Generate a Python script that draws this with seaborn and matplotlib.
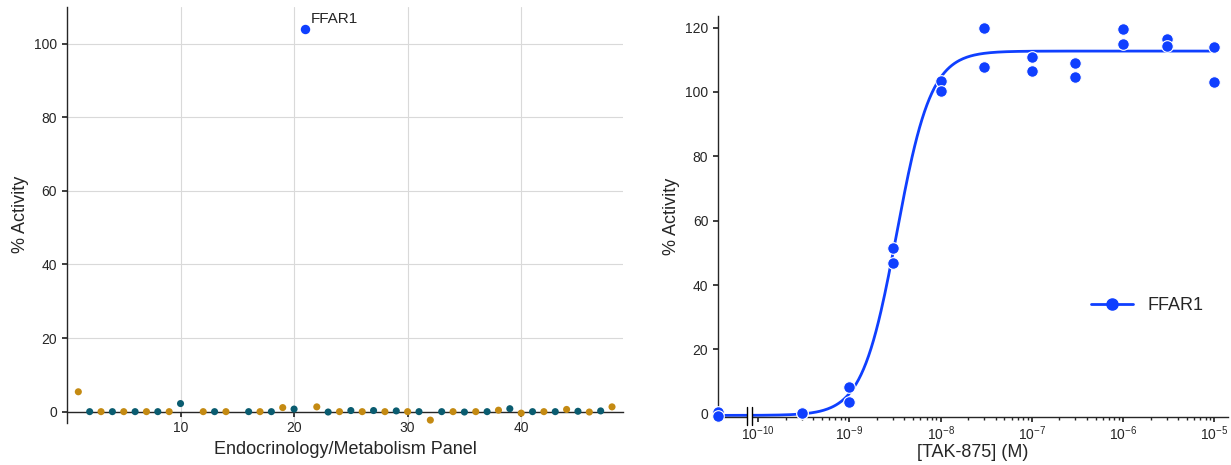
import numpy as np
import pandas as pd
import matplotlib
matplotlib.use("Agg")
import matplotlib.pyplot as plt
from matplotlib import ticker, transforms
from matplotlib.patches import Rectangle
import seaborn as sns

# selectivity panel (left)
panel_idx = [1, 2, 3, 4, 5, 6, 7, 8, 9, 10, 12, 13, 14, 16, 17, 18, 19, 20, 21,
             22, 23, 24, 25, 26, 27, 28, 29, 30, 31, 32, 33, 34, 35, 36, 37, 38,
             39, 40, 41, 42, 43, 44, 45, 46, 47, 48]
panel_act = [5.4, 0.0, 0.0, 0.0, 0.0, 0.0, 0.0, 0.0, 0.0, 2.2, 0.0, 0.0, 0.0, 0.0,
             0.0, 0.0, 1.1, 0.7, 104.0, 1.3, -0.1, 0.0, 0.3, 0.0, 0.3, 0.0, 0.2,
             0.0, 0.0, -2.3, 0.0, 0.0, -0.1, 0.0, 0.0, 0.4, 0.8, -0.4, 0.0, 0.0,
             0.0, 0.6, 0.1, -0.1, 0.2, 1.3]
panel_grp = ["a", "b", "a", "b", "a", "b", "a", "b", "a", "b", "a", "b", "a", "b",
             "a", "b", "a", "b", "hit", "a", "b", "a", "b", "a", "b", "a", "b",
             "a", "b", "a", "b", "a", "b", "a", "b", "a", "b", "a", "b", "a",
             "b", "a", "b", "a", "b", "a"]
hit_name = "FFAR1"

# TAK-875 dose response (right), 0 = vehicle
conc = [0, 3e-10, 1e-9, 3e-9, 1e-8, 3e-8, 1e-7, 3e-7, 1e-6, 3e-6, 1e-5]
rep1 = [0.5, 0.4, 8.3, 51.6, 103.4, 119.8, 110.8, 109.1, 119.5, 116.3, 114.0]
rep2 = [-0.6, 0.1, 3.8, 47.0, 100.3, 107.7, 106.4, 104.8, 115.0, 114.4, 103.1]
fit_bottom, fit_top, fit_ec50, fit_hill = -0.5, 112.7, 3.3e-9, 2.3

BLUE = "#0f3fff"
GOLD = "#c48a12"
TEAL = "#0a5c70"
ZERO_POS = 10 ** -10.44
XMAX = 10 ** -4.85

sns.set_theme(style="ticks")
plt.rcParams["font.family"] = ["Liberation Sans", "DejaVu Sans"]
plt.rcParams["axes.linewidth"] = 1.0
plt.rcParams["xtick.labelsize"] = 10
plt.rcParams["ytick.labelsize"] = 10
plt.rcParams["xtick.major.size"] = 3.5
plt.rcParams["ytick.major.size"] = 3.5

fig = plt.figure(figsize=(12.31, 4.65), dpi=100)
ax1 = fig.add_axes([0.0544, 0.091, 0.452, 0.894])
ax2 = fig.add_axes([0.5833, 0.1032, 0.4143, 0.8624])

# ---- left panel
df = pd.DataFrame({"idx": panel_idx, "act": panel_act, "grp": panel_grp})
rest = df[df["grp"] != "hit"]
hit = df[df["grp"] == "hit"]
ax1.grid(True, color="#d9d9d9", lw=0.8)
ax1.set_axisbelow(True)
sns.scatterplot(data=rest, x="idx", y="act", hue="grp",
                palette={"a": GOLD, "b": TEAL}, s=26, linewidth=0,
                legend=False, ax=ax1, clip_on=False, zorder=3)
sns.scatterplot(data=hit, x="idx", y="act", color=BLUE, s=46, linewidth=0,
                legend=False, ax=ax1, zorder=3)
ax1.annotate(hit_name, (hit["idx"].iloc[0], hit["act"].iloc[0]), xytext=(4, 2),
             textcoords="offset points", fontsize=11, ha="left", va="bottom")
ax1.set_xlim(0, 49)
ax1.set_ylim(-3, 110)
ax1.set_xticks([10, 20, 30, 40])
ax1.set_yticks([0, 20, 40, 60, 80, 100])
ax1.spines["bottom"].set_position(("data", 0))
sns.despine(ax=ax1)
ax1.set_xlabel("Endocrinology/Metabolism Panel", fontsize=13, labelpad=4)
ax1.set_ylabel("% Activity", fontsize=13)

# ---- right panel
x_plot = [ZERO_POS if c == 0 else c for c in conc]
dr = pd.DataFrame({"x": x_plot * 2, "y": rep1 + rep2})
grid = np.logspace(np.log10(ZERO_POS), -5, 400)
curve = fit_bottom + (fit_top - fit_bottom) / (1 + (fit_ec50 / grid) ** fit_hill)
sns.lineplot(x=grid, y=curve, color=BLUE, lw=2, ax=ax2, zorder=2)
sns.scatterplot(data=dr, x="x", y="y", color=BLUE, s=70, edgecolor="white",
                linewidth=0.8, ax=ax2, clip_on=False, zorder=3)
ax2.set_xscale("log")
ax2.set_xlim(ZERO_POS, XMAX)
ax2.set_ylim(-1, 123.6)
ax2.set_yticks([0, 20, 40, 60, 80, 100, 120])
ax2.xaxis.set_major_locator(ticker.FixedLocator([1e-10, 1e-9, 1e-8, 1e-7, 1e-6, 1e-5]))
ax2.xaxis.set_major_formatter(ticker.LogFormatterSciNotation())
minors = [m * 10.0 ** k for k in range(-10, -5) for m in range(2, 10)]
ax2.xaxis.set_minor_locator(ticker.FixedLocator(minors))
ax2.xaxis.set_minor_formatter(ticker.NullFormatter())
ax2.tick_params(axis="x", which="minor", length=2)
ax2.tick_params(axis="x", which="major", pad=1.5)
sns.despine(ax=ax2)
ax2.set_xlabel("[TAK-875] (M)", fontsize=13, labelpad=1)
ax2.set_ylabel("% Activity", fontsize=13)

# axis break marks
tr = transforms.blended_transform_factory(ax2.transData, ax2.transAxes)
b1, b2 = 10 ** -10.125, 10 ** -10.07
ax2.add_patch(Rectangle((b1, -0.03), b2 - b1, 0.06, transform=tr,
                        facecolor="white", edgecolor="none", clip_on=False, zorder=4))
for b in (b1, b2):
    ax2.plot([b, b], [-0.02, 0.025], transform=tr, color="black", lw=1,
             clip_on=False, zorder=5)

h = [plt.Line2D([], [], color=BLUE, lw=2, marker="o", markersize=8)]
ax2.legend(h, [hit_name], loc="center right", bbox_to_anchor=(0.983, 0.277),
           frameon=False, fontsize=13, handlelength=2.3, handletextpad=0.8)

fig.savefig("out.png", dpi=100)
